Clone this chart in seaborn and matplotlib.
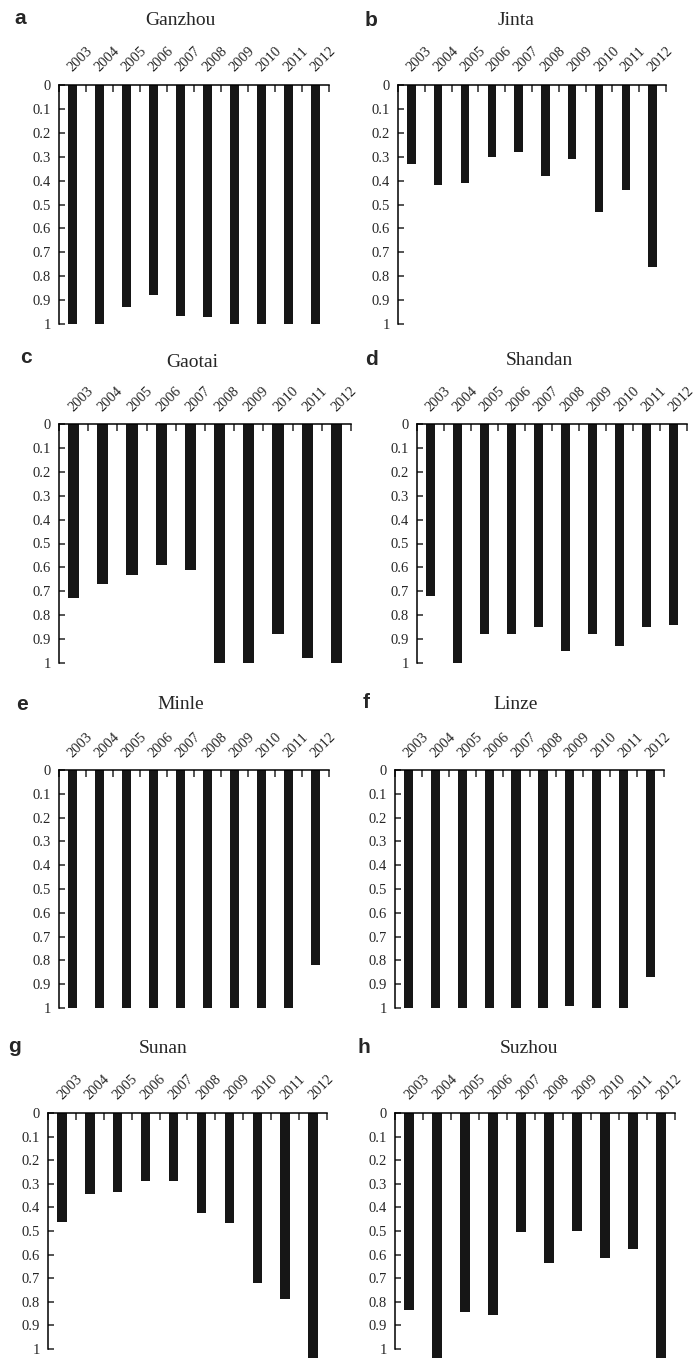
import numpy as np
import pandas as pd
import matplotlib
matplotlib.use('Agg')
import matplotlib.pyplot as plt
import seaborn as sns

# data
years = ['2003', '2004', '2005', '2006', '2007', '2008', '2009', '2010', '2011', '2012']
ganzhou = [1.0, 1.0, 0.93, 0.88, 0.965, 0.97, 1.0, 1.0, 1.0, 1.0]
jinta = [0.33, 0.42, 0.41, 0.30, 0.28, 0.38, 0.31, 0.53, 0.44, 0.76]
gaotai = [0.73, 0.67, 0.63, 0.59, 0.61, 1.0, 1.0, 0.88, 0.98, 1.0]
shandan = [0.72, 1.0, 0.88, 0.88, 0.85, 0.95, 0.88, 0.93, 0.85, 0.84]
minle = [1.0, 1.0, 1.0, 1.0, 1.0, 1.0, 1.0, 1.0, 1.0, 0.82]
linze = [1.0, 1.0, 1.0, 1.0, 1.0, 1.0, 0.99, 1.0, 1.0, 0.87]
sunan = [0.46, 0.345, 0.335, 0.29, 0.29, 0.425, 0.465, 0.72, 0.79, 1.04]
suzhou = [0.835, 1.04, 0.845, 0.855, 0.505, 0.635, 0.50, 0.615, 0.575, 1.04]
y_ticks = [0, 0.1, 0.2, 0.3, 0.4, 0.5, 0.6, 0.7, 0.8, 0.9, 1.0]
y_labels = ['0', '0.1', '0.2', '0.3', '0.4', '0.5', '0.6', '0.7', '0.8', '0.9', '1']

letters = ['a', 'b', 'c', 'd', 'e', 'f', 'g', 'h']
titles = ['Ganzhou', 'Jinta', 'Gaotai', 'Shandan', 'Minle', 'Linze', 'Sunan', 'Suzhou']
series = [ganzhou, jinta, gaotai, shandan, minle, linze, sunan, suzhou]

# layout in pixels: axes box (left, top, right, bottom), title (x, baseline), letter (x, baseline), bar width
boxes = [(59, 85, 329, 324), (398, 85, 666, 324),
         (59, 424, 351, 663), (417, 424, 687, 663),
         (59, 770, 329, 1008), (395, 770, 664, 1008),
         (48, 1113, 327, 1349), (395, 1113, 675, 1349)]
title_pos = [(180, 25), (516, 25), (192, 367), (539, 365),
             (181, 709), (516, 709), (163, 1053), (529, 1053)]
letter_pos = [(20, 24), (371, 26), (26, 363), (371, 365),
              (22, 710), (366, 708), (15, 1052), (364, 1053)]
bar_w = [0.34, 0.32, 0.38, 0.34, 0.34, 0.34, 0.34, 0.34]

sns.set_style('ticks')
plt.rcParams['font.family'] = ['Liberation Serif', 'DejaVu Serif']

W, H = 698, 1358
fig = plt.figure(figsize=(W / 100, H / 100), dpi=100)
bar_color = '#161616'

for i in range(8):
    l, t, r, b = boxes[i]
    ax = fig.add_axes([l / W, 1 - b / H, (r - l) / W, (b - t) / H])
    df = pd.DataFrame({'year': years, 'value': series[i]})
    sns.barplot(data=df, x='year', y='value', color=bar_color, saturation=1,
                width=bar_w[i], errorbar=None, ax=ax)
    for p in ax.patches:
        p.set_clip_on(False)
        p.set_linewidth(0)

    ax.set_xlim(-0.5, 9.5)
    ax.set_ylim(1, 0)
    ax.set_xlabel('')
    ax.set_ylabel('')

    for s in ['right', 'bottom']:
        ax.spines[s].set_visible(False)
    for s in ['left', 'top']:
        ax.spines[s].set_linewidth(1.1)
        ax.spines[s].set_color('black')

    ax.xaxis.set_ticks_position('top')
    ax.set_xticks(range(len(years)))
    ax.set_xticklabels(years, rotation=45, ha='left', va='baseline',
                       rotation_mode='anchor', fontsize=10.5)
    ax.set_xticks(np.arange(-0.5, len(years), 1), minor=True)
    ax.tick_params(axis='x', which='major', length=0, pad=9,
                   top=True, bottom=False, labeltop=True, labelbottom=False)
    ax.tick_params(axis='x', which='minor', direction='in', length=5, width=1.1,
                   top=True, bottom=False)

    ax.set_yticks(y_ticks)
    ax.set_yticklabels(y_labels)
    ax.tick_params(axis='y', direction='in', length=4, width=1.1, pad=6, labelsize=10.5)

    tx, ty = title_pos[i]
    fig.text(tx / W, 1 - ty / H, titles[i], ha='center', va='baseline', fontsize=14)
    lx, ly = letter_pos[i]
    fig.text(lx / W, 1 - ly / H, letters[i], ha='center', va='baseline', fontsize=15,
             fontweight='bold', family=['Liberation Sans', 'DejaVu Sans'])

fig.savefig('out.png', dpi=100)
